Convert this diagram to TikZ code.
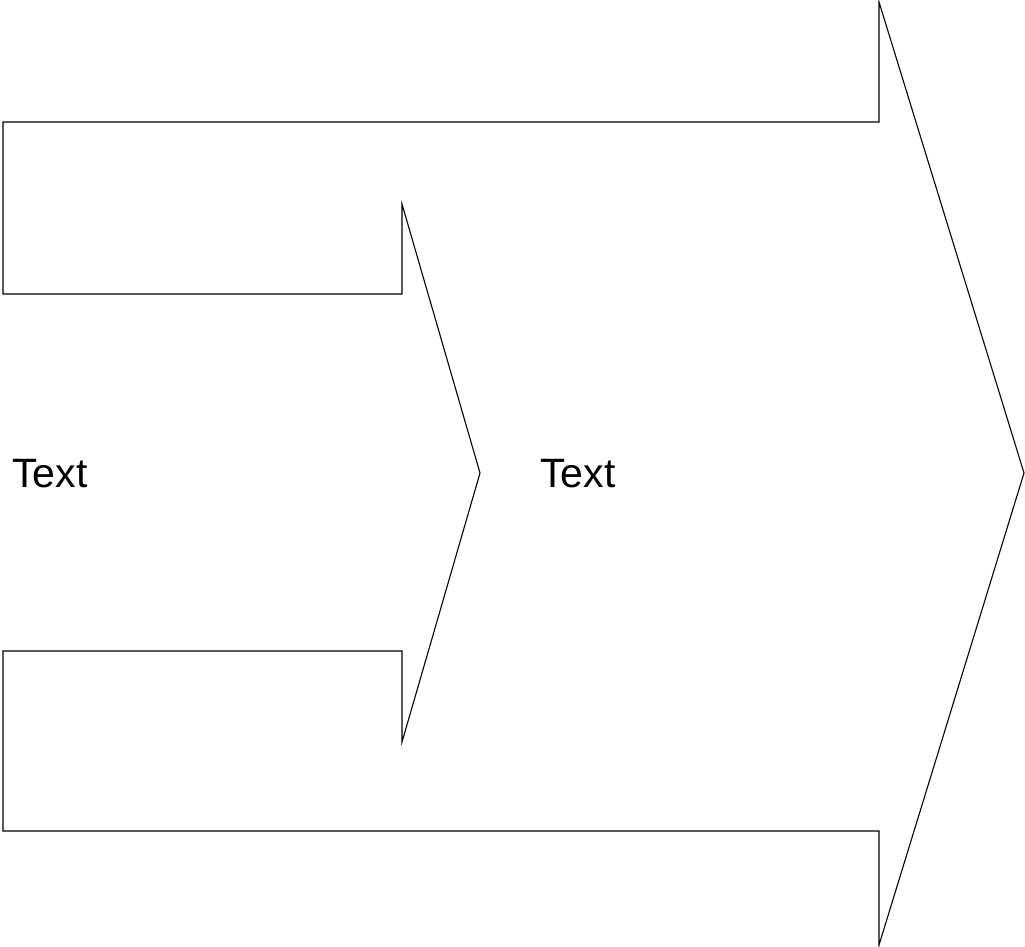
\documentclass[tikz,border=0pt]{standalone}
\usepackage{fontspec}
\setmainfont{Liberation Sans}
\usepackage{tikz}

\begin{document}
\begin{tikzpicture}[x=1pt,y=-1pt]
        \useasboundingbox (0,0) rectangle (1025,947);
        \draw[line width=1.1pt,line join=miter] (3,651)--(402,651)--(402,742)--(480,473)--(402,204)--(402,294)--(3,294)--(3,122)--(879,122)--(879,2)--(1024,473)--(879,945)--(879,831)--(3,831)--cycle;
        \node[anchor=base west,inner sep=0pt,font=\fontsize{41}{46}\selectfont] (lefttext) at (12,487) {Text};
        \node[anchor=base west,inner sep=0pt,font=\fontsize{41}{46}\selectfont] (midtext) at (540,487) {Text};
      \end{tikzpicture}
\end{document}
